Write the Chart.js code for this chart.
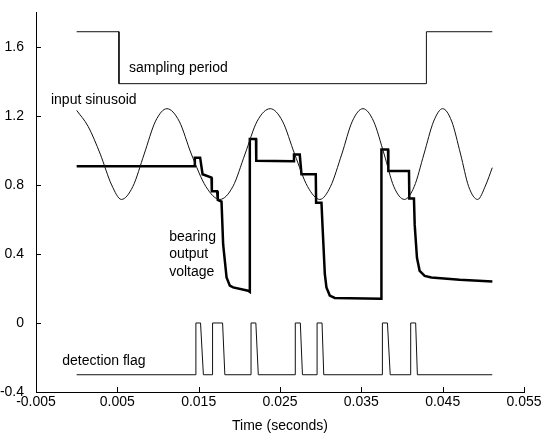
<!DOCTYPE html>
<html>
<head>
<meta charset="utf-8">
<title>Bearing detection</title>
<script src="https://cdn.jsdelivr.net/npm/chart.js@4.4.1/dist/chart.umd.min.js"></script>
<style>
  body { margin: 0; background: #fff; }
  #wrap { width: 543px; height: 436px; }
</style>
</head>
<body>
<div id="wrap"><canvas id="chart" width="543" height="436"></canvas></div>
<script>
// tick marks
const xTicks = [-0.005, 0.005, 0.015, 0.025, 0.035, 0.045, 0.055];
const xTickLabels = ["-0.005", "0.005", "0.015", "0.025", "0.035", "0.045", "0.055"];
const yTicks = [-0.4, 0, 0.4, 0.8, 1.2, 1.6];
const yTickLabels = ["-0.4", "0", "0.4", "0.8", "1.2", "1.6"];

// sampling period (square step)
const samplingTime = [0, 0.0052, 0.0052, 0.0430, 0.0430, 0.0511];
const samplingVolts = [1.688, 1.688, 1.387, 1.387, 1.688, 1.688];

// input sinusoid (read at peaks, quarter and crossing points)
const sineTime = [
  0.0000, 0.0014, 0.0029, 0.0043, 0.0055, 0.0069, 0.0083, 0.0097, 0.0111,
  0.0126, 0.0141, 0.0159, 0.0176, 0.0192, 0.0207, 0.0222, 0.0238,
  0.0253, 0.0268, 0.0284, 0.0299, 0.0312, 0.0326, 0.0339, 0.0352,
  0.0365, 0.0378, 0.0390, 0.0403, 0.0415, 0.0427, 0.0439, 0.0450,
  0.0461, 0.0472, 0.0482, 0.0493, 0.0503, 0.0511
];
const sineVolts = [
  1.232, 1.14, 0.979, 0.80, 0.716, 0.79, 0.979, 1.17, 1.242,
  1.17, 0.979, 0.79, 0.716, 0.79, 0.979, 1.17, 1.242,
  1.17, 0.979, 0.79, 0.716, 0.79, 0.979, 1.17, 1.242,
  1.17, 0.979, 0.79, 0.716, 0.79, 0.979, 1.17, 1.242,
  1.17, 0.979, 0.79, 0.716, 0.80, 0.900
];

// bearing output voltage (thick trace)
const bearingTime = [
  0.0000, 0.01453, 0.01453, 0.01518, 0.01548, 0.01658, 0.01662, 0.01727, 0.01735,
  0.01781, 0.01801, 0.01843, 0.01883, 0.01924, 0.02108, 0.02129, 0.02129, 0.02205,
  0.02208, 0.02670, 0.02672, 0.02743, 0.02764, 0.02940, 0.02944, 0.03010,
  0.03022, 0.03051, 0.03071, 0.03112, 0.03173, 0.03744, 0.03747, 0.03828, 0.03832,
  0.04086, 0.04090, 0.04147, 0.04156, 0.04184, 0.04217, 0.04279, 0.04361,
  0.04709, 0.05111
];
const bearingVolts = [
  0.909, 0.909, 0.958, 0.958, 0.862, 0.842, 0.764, 0.764, 0.713,
  0.703, 0.455, 0.264, 0.216, 0.206, 0.187, 0.180, 1.066, 1.066,
  0.940, 0.938, 0.976, 0.976, 0.862, 0.862, 0.697, 0.697,
  0.570, 0.284, 0.206, 0.159, 0.145, 0.140, 1.005, 1.005, 0.881,
  0.881, 0.722, 0.722, 0.570, 0.378, 0.302, 0.273, 0.264,
  0.250, 0.241
];

// detection flag pulses
const flagTime = [
  0, 0.01466, 0.01466, 0.01523, 0.01558, 0.01671, 0.01671, 0.01794, 0.01822,
  0.02144, 0.02144, 0.02203, 0.02233, 0.02688, 0.02688, 0.02750, 0.02776,
  0.02956, 0.02956, 0.03017, 0.03038, 0.03759, 0.03759, 0.03821, 0.03855,
  0.04107, 0.04107, 0.04168, 0.04189, 0.05110
];
const flagVolts = [
  -0.30, -0.30, 0, 0, -0.30, -0.30, 0, 0, -0.30,
  -0.30, 0, 0, -0.30, -0.30, 0, 0, -0.30,
  -0.30, 0, 0, -0.30, -0.30, 0, 0, -0.30,
  -0.30, 0, 0, -0.30, -0.30
];

// text labels inside the plot (data coordinates)
const notes = [
  { text: "sampling period", t: 0.00643, v: 1.475 },
  { text: "input sinusoid", t: -0.00316, v: 1.292 },
  { text: "bearing", t: 0.01138, v: 0.499 },
  { text: "output", t: 0.01138, v: 0.398 },
  { text: "voltage", t: 0.01138, v: 0.292 },
  { text: "detection flag", t: -0.00177, v: -0.2235 }
];

function toPoints(ts, vs) {
  return ts.map((t, i) => ({ x: t, y: vs[i] }));
}

Chart.defaults.font.family = "'Liberation Sans', Arial, sans-serif";
Chart.defaults.font.size = 14;
Chart.defaults.color = "#000";

// ticks point inward, like the original plot
const inwardTicks = {
  id: "inwardTicks",
  afterDraw(chart) {
    const { ctx, chartArea, scales } = chart;
    ctx.save();
    ctx.strokeStyle = "#000";
    ctx.lineWidth = 1;
    ctx.beginPath();
    xTicks.forEach((t) => {
      const px = Math.round(scales.x.getPixelForValue(t)) + 0.5;
      ctx.moveTo(px, chartArea.bottom);
      ctx.lineTo(px, chartArea.bottom - 5);
    });
    yTicks.forEach((v) => {
      const py = Math.round(scales.y.getPixelForValue(v)) + 0.5;
      ctx.moveTo(chartArea.left, py);
      ctx.lineTo(chartArea.left + 5, py);
    });
    ctx.stroke();
    ctx.restore();
  }
};

const noteLabels = {
  id: "noteLabels",
  afterDatasetsDraw(chart) {
    const { ctx, scales } = chart;
    ctx.save();
    ctx.fillStyle = "#000";
    ctx.font = "14px 'Liberation Sans', Arial, sans-serif";
    ctx.textAlign = "left";
    ctx.textBaseline = "middle";
    notes.forEach((n) => {
      ctx.fillText(n.text, scales.x.getPixelForValue(n.t), scales.y.getPixelForValue(n.v));
    });
    ctx.restore();
  }
};

const chart = new Chart(document.getElementById("chart"), {
  type: "line",
  data: {
    datasets: [
      {
        label: "sampling period",
        data: toPoints(samplingTime, samplingVolts),
        borderColor: "#111",
        borderWidth: 1,
        pointRadius: 0,
        tension: 0
      },
      {
        label: "input sinusoid",
        data: toPoints(sineTime, sineVolts),
        borderColor: "#111",
        borderWidth: 1,
        pointRadius: 0,
        cubicInterpolationMode: "monotone"
      },
      {
        label: "bearing output voltage",
        data: toPoints(bearingTime, bearingVolts),
        borderColor: "#000",
        borderWidth: 2.5,
        pointRadius: 0,
        tension: 0
      },
      {
        label: "detection flag",
        data: toPoints(flagTime, flagVolts),
        borderColor: "#111",
        borderWidth: 1,
        pointRadius: 0,
        tension: 0
      }
    ]
  },
  options: {
    responsive: false,
    animation: false,
    events: [],
    layout: { padding: { top: 8, right: 19, left: 0, bottom: 0 } },
    plugins: {
      legend: { display: false },
      tooltip: { enabled: false }
    },
    scales: {
      x: {
        type: "linear",
        min: -0.005,
        max: 0.055,
        afterBuildTicks: (scale) => {
          scale.ticks = xTicks.map((v) => ({ value: v }));
        },
        afterFit: (scale) => {
          scale.height = 44;
        },
        ticks: {
          padding: -6,
          maxRotation: 0,
          callback: (value, i) => xTickLabels[i]
        },
        grid: { display: false },
        border: { display: true, color: "#000", width: 1 },
        title: {
          display: true,
          text: "Time (seconds)",
          font: { size: 14 },
          padding: { top: 0, bottom: 1 }
        }
      },
      y: {
        type: "linear",
        min: -0.4,
        max: 1.8,
        afterBuildTicks: (scale) => {
          scale.ticks = yTicks.map((v) => ({ value: v }));
        },
        afterFit: (scale) => {
          scale.width = 36;
        },
        ticks: {
          padding: 4,
          callback: (value, i) => yTickLabels[i]
        },
        grid: { display: false },
        border: { display: true, color: "#000", width: 1 }
      }
    }
  },
  plugins: [inwardTicks, noteLabels]
});
</script>
</body>
</html>
